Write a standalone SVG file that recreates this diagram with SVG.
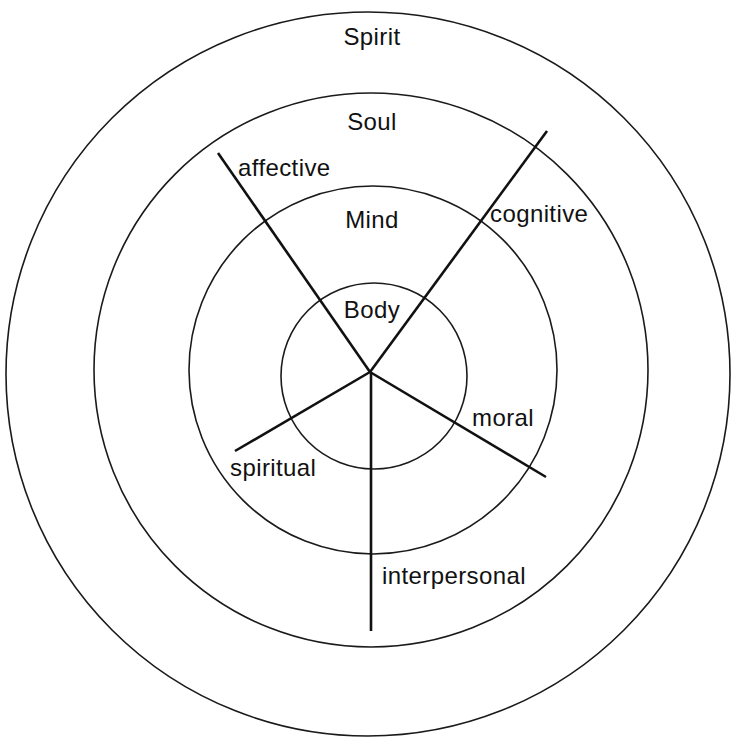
<svg xmlns="http://www.w3.org/2000/svg" width="731" height="739" viewBox="0 0 731 739">
<style>
.ring{fill:none;stroke:#1a1a1a;stroke-width:1.6}
.spoke{stroke:#111;stroke-width:2.6;stroke-linecap:butt}
text{font-family:"Liberation Sans",Arial,sans-serif;font-size:24px;fill:#111;letter-spacing:0.4px}
.c{text-anchor:middle}
</style>
<rect width="731" height="739" fill="#fff"/>
<g id="spirit"><circle class="ring" cx="368" cy="374" r="362"/><text class="c" x="372" y="45">Spirit</text></g>
<g id="soul"><circle class="ring" cx="371" cy="370" r="277"/><text class="c" x="372" y="130">Soul</text></g>
<g id="mind"><circle class="ring" cx="373" cy="370" r="184"/><text class="c" x="372" y="228">Mind</text></g>
<g id="body"><circle class="ring" cx="374" cy="376" r="93"/><text class="c" x="372" y="318">Body</text></g>
<g id="connectors">
<line class="spoke" x1="370" y1="372" x2="218" y2="153"/>
<line class="spoke" x1="370" y1="372" x2="547" y2="131"/>
<line class="spoke" x1="370" y1="372" x2="235" y2="451"/>
<line class="spoke" x1="370" y1="372" x2="546" y2="477"/>
<line class="spoke" x1="371" y1="372" x2="371" y2="631"/>
</g>
<g id="labels">
<text x="238" y="176">affective</text>
<text x="490" y="222">cognitive</text>
<text x="472" y="426">moral</text>
<text x="230" y="476">spiritual</text>
<text x="382" y="584">interpersonal</text>
</g>
</svg>
